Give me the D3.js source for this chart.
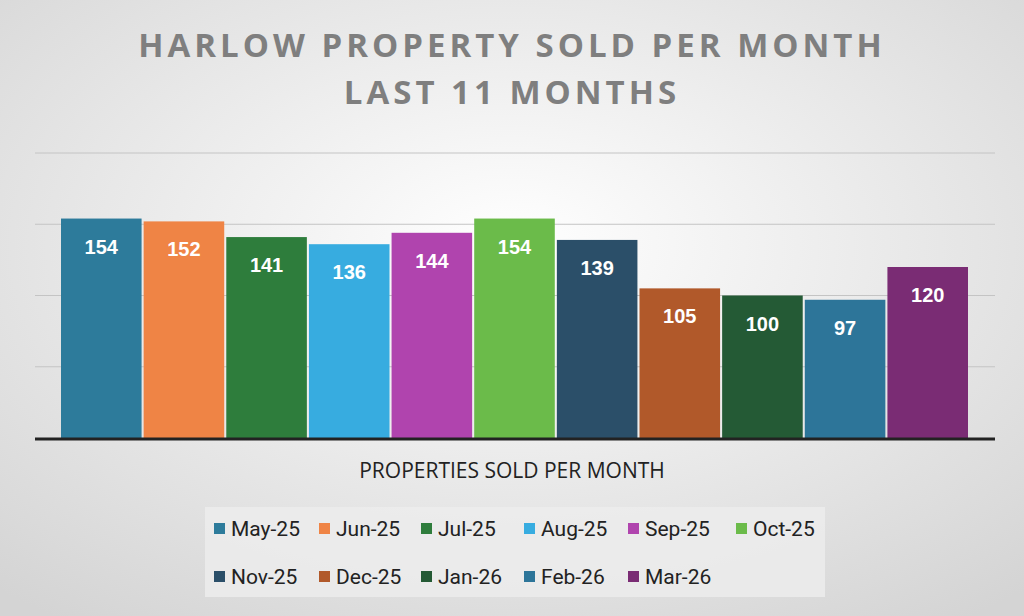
<!DOCTYPE html>
<html><head><meta charset="utf-8">
<script src="https://cdn.jsdelivr.net/npm/d3@7"></script>
<style>body{margin:0;} svg{display:block;}</style>
</head><body>
<svg id="chart" width="1024" height="616"></svg>
<script>
const months = ["May-25","Jun-25","Jul-25","Aug-25","Sep-25","Oct-25","Nov-25","Dec-25","Jan-26","Feb-26","Mar-26"];
const sold = [154,152,141,136,144,154,139,105,100,97,120];
const colors = ["#2d7b9b","#ef8445","#2e7d3c","#37ace0","#b044ae","#6bbb4a","#2b4f69","#b1592a","#245a35","#2d7599","#7a2c74"];
const gridTicks = [50,100,150,200];

const svg = d3.select("#chart");
const defs = svg.append("defs");
const grad = defs.append("radialGradient").attr("id","bg").attr("cx","50%").attr("cy","40%").attr("r","75%");
grad.append("stop").attr("offset","0%").attr("stop-color","#ffffff");
grad.append("stop").attr("offset","100%").attr("stop-color","#d4d4d4");
svg.append("rect").attr("width",1024).attr("height",616).attr("fill","url(#bg)");

const title = svg.append("text").attr("text-anchor","middle").attr("fill","#7f7f7f")
  .attr("font-family","'Open Sans', sans-serif").attr("font-weight","bold")
  .attr("font-size",33).attr("letter-spacing",4);
title.append("tspan").attr("x",512).attr("y",57).text("HARLOW PROPERTY SOLD PER MONTH");
title.append("tspan").attr("x",512).attr("y",104).text("LAST 11 MONTHS");

const x = d3.scaleBand().domain(months).range([61,968]).paddingInner(0.025);
const y = d3.scaleLinear().domain([0,200]).range([438,153]);

svg.append("g").selectAll("line").data(gridTicks).join("line")
  .attr("x1",35).attr("x2",995).attr("y1",d=>y(d)).attr("y2",d=>y(d))
  .attr("stroke","#c4c4c4").attr("stroke-width",1);

svg.append("g").selectAll("rect").data(sold).join("rect")
  .attr("x",(d,i)=>x(months[i])).attr("width",x.bandwidth())
  .attr("y",d=>y(d)).attr("height",d=>y(0)-y(d))
  .attr("fill",(d,i)=>colors[i]);

svg.append("g").selectAll("text").data(sold).join("text")
  .attr("x",(d,i)=>x(months[i])+x.bandwidth()/2).attr("y",d=>y(d)+35)
  .attr("text-anchor","middle").attr("fill","#fff").attr("font-weight","bold")
  .attr("font-family","'Liberation Sans', Arial, sans-serif").attr("font-size",20)
  .text(d=>d);

svg.append("line").attr("x1",35).attr("x2",995).attr("y1",y(0)+1).attr("y2",y(0)+1)
  .attr("stroke","#222").attr("stroke-width",3);

svg.append("text").attr("x",512).attr("y",478).attr("text-anchor","middle")
  .attr("fill","#222").attr("font-family","'Open Sans', sans-serif").attr("font-size",21)
  .text("PROPERTIES SOLD PER MONTH");

// legend
svg.append("rect").attr("x",205).attr("y",507).attr("width",620).attr("height",90)
  .attr("fill","#ececec").attr("opacity",0.85);
const colX = [214,319,421,524,628,736];
const rowY = [529,577];
const leg = svg.append("g").selectAll("g").data(months).join("g")
  .attr("transform",(d,i)=>`translate(${colX[i%6]},${rowY[Math.floor(i/6)]})`);
leg.append("rect").attr("x",0).attr("y",-6).attr("width",11).attr("height",11)
  .attr("fill",(d,i)=>colors[i]);
leg.append("text").attr("x",17).attr("y",7).attr("fill","#222")
  .attr("font-family","'Liberation Sans Narrow', 'Roboto', sans-serif").attr("font-size",21)
  .text(d=>d);
</script>
</body></html>
